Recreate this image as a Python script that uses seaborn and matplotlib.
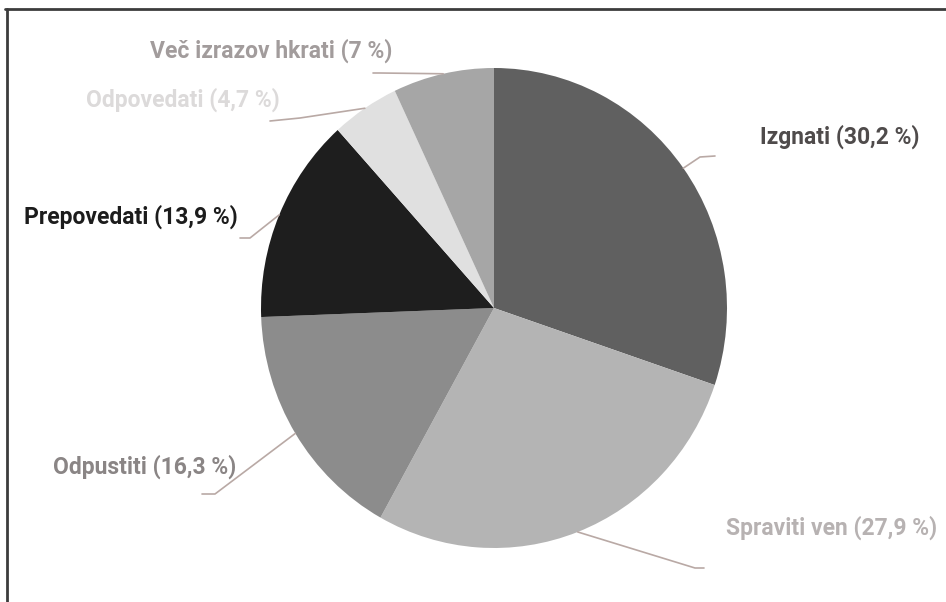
import numpy as np
import seaborn as sns
import matplotlib.pyplot as plt

# slices, clockwise from 12 o'clock
labels = ['Izgnati', 'Spraviti ven', 'Odpustiti', 'Prepovedati', 'Odpovedati', 'Več izrazov hkrati']
shares = [30.2, 27.9, 16.3, 13.9, 4.7, 7.0]
share_txt = ['30,2', '27,9', '16,3', '13,9', '4,7', '7']
slice_cols = ['#606060', '#b4b4b4', '#8c8c8c', '#1e1e1e', '#e0e0e0', '#a6a6a6']
text_cols = ['#4f4b4b', '#b7b2b2', '#8a8585', '#1c1c1c', '#dcdada', '#a29c9c']

sns.set_theme(style='white')
plt.rcParams['font.family'] = ['Roboto', 'DejaVu Sans']

W, H = 946, 602
fig = plt.figure(figsize=(W / 100, H / 100), dpi=100)

# pie centre and radii in pixels
cx, cy, rx, ry = 494, 308, 233, 240
ax = fig.add_axes([(cx - rx) / W, 1 - (cy + ry) / H, 2 * rx / W, 2 * ry / H])
ax.pie(shares, colors=slice_cols, startangle=90, counterclock=False,
       wedgeprops=dict(linewidth=0))
ax.set_aspect('auto')
ax.set_xlim(-1, 1)
ax.set_ylim(-1, 1)

# overlay in pixel coords for leaders, labels, frame
ov = fig.add_axes([0, 0, 1, 1], zorder=3)
ov.set_xlim(0, W)
ov.set_ylim(H, 0)
ov.axis('off')
ov.patch.set_alpha(0)

cum = np.cumsum([0] + shares)
mids = 90 - (cum[:-1] + np.array(shares) / 2) * 3.6
sx = cx + rx * np.cos(np.radians(mids))
sy = cy - ry * np.sin(np.radians(mids))

# leader elbow/end points and label anchors (pixels)
elbows = [(700, 157), (695, 568), (215, 494), (250, 238), (300, 118), (380, 73)]
ends = [(715, 156), (704, 568), (202, 494), (240, 238), (270, 121), (373, 73)]
label_xy = [(760, 137, 'left'), (726, 528, 'left'), (236, 467, 'right'),
            (238, 217, 'right'), (280, 100, 'right'), (392, 51, 'right')]

for i in range(len(labels)):
    ov.plot([sx[i], elbows[i][0], ends[i][0]], [sy[i], elbows[i][1], ends[i][1]],
            color='#b9a9a5', lw=1.2, solid_capstyle='round')
    x, y, ha = label_xy[i]
    ov.text(x, y, f'{labels[i]} ({share_txt[i]} %)', ha=ha, va='center',
            fontsize=16.5, fontweight='bold', color=text_cols[i])

# frame lines (top and left)
ov.plot([5, W], [9, 9], color='#3c3c3c', lw=2, clip_on=False)
ov.plot([7, 7], [9, H], color='#3c3c3c', lw=2, clip_on=False)

fig.savefig('out.png', dpi=100)
